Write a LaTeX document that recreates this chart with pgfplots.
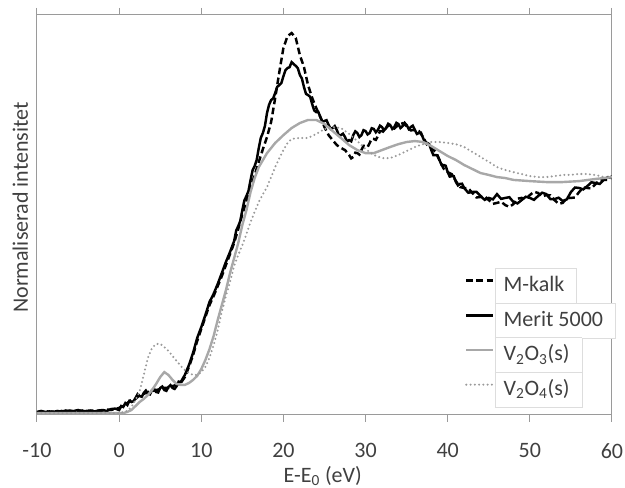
\documentclass[border=0pt]{standalone}
\usepackage{pgfplots}
\pgfplotsset{compat=1.18}
\usepackage{fontspec}
\setmainfont{Carlito}
\definecolor{txt}{HTML}{404040}
\definecolor{axgray}{HTML}{9A9A9A}
\definecolor{gsolid}{HTML}{A8A8A8}
\definecolor{gdot}{HTML}{9A9A9A}
\definecolor{lgray}{HTML}{DDDDDD}
\setlength{\fboxsep}{3pt}
\setlength{\fboxrule}{0.6pt}
\newcommand{\lbox}[1]{\fcolorbox{lgray}{white}{\hspace{3pt}\strut #1\hspace{6pt}}}
\begin{document}
\begin{tikzpicture}
\useasboundingbox (-27.75pt,-54.75pt) rectangle (441pt,311.25pt);
\begin{axis}[
  at={(0pt,0pt)}, anchor=south west,
  scale only axis, width=431.25pt, height=300pt,
  xmin=-10, xmax=60, ymin=0, ymax=1.688,
  xtick={-10,0,10,20,30,40,50,60}, ytick=\empty,
  tick align=outside, major tick length=5.25pt,
  axis line style={draw=axgray, line width=0.75pt},
  every tick/.style={draw=axgray, line width=0.75pt},
  /pgf/number format/assume math mode=true,
  font=\fontsize{16.5}{20}\selectfont,
  x tick label style={text=txt, font=\fontsize{16.5}{20}\selectfont, yshift=-12.5pt},
  xlabel={E-E\textsubscript{0} (eV)},
  ylabel={Normaliserad intensitet},
  every axis x label/.style={at={(axis description cs:0.497,-0.168)}, anchor=base, text=txt, font=\fontsize{16.5}{20}\selectfont},
  every axis y label/.style={at={(axis description cs:-0.0157,0.519)}, rotate=90, anchor=base, text=txt, font=\fontsize{16.5}{20}\selectfont},
  legend cell align=left,
  legend style={at={(axis description cs:0.744,0.37)}, anchor=north west, draw=none, fill=none,
    inner sep=0pt, row sep=5.9pt, font=\fontsize{16.5}{20}\selectfont, text=txt,
    nodes={inner sep=0.5pt}},
  legend image code/.code={\draw[#1] (0pt,0pt) -- (20pt,0pt);},
]
% M-kalk
\addplot[black, line width=1.85pt, dash pattern=on 5pt off 2.6pt] coordinates {
(-10,0.011) (-9.5,0.013) (-9,0.017) (-8.5,0.013) (-8,0.015) (-7.5,0.013) (-7,0.017) (-6.5,0.015)
(-6,0.019) (-5.5,0.015) (-5,0.017) (-4.5,0.019) (-4,0.015) (-3.5,0.017) (-3,0.019) (-2.5,0.017)
(-2,0.019) (-1.5,0.023) (-1,0.021) (-0.5,0.025) (0,0.030) (0.5,0.038) (1,0.051) (1.5,0.063)
(2,0.068) (2.5,0.084) (3,0.089) (3.5,0.097) (4,0.101) (4.5,0.105) (5,0.110) (5.5,0.114)
(6,0.114) (6.5,0.122) (7,0.127) (7.5,0.135) (8,0.160) (8.5,0.203) (9,0.253) (9.5,0.312)
(10,0.363) (10.5,0.414) (11,0.464) (11.5,0.502) (12,0.544) (12.5,0.586) (13,0.633) (13.5,0.679)
(14,0.726) (14.5,0.785) (15,0.848) (15.5,0.903) (16,0.958) (16.5,1.013) (17,1.068) (17.5,1.122)
(18,1.173) (18.5,1.236) (19,1.338) (19.5,1.447) (20,1.549) (20.5,1.599) (21,1.612) (21.5,1.591)
(22,1.519) (22.5,1.468) (23,1.392) (23.5,1.338) (24,1.295) (24.5,1.257) (25,1.215) (25.5,1.181)
(26,1.160) (26.5,1.139) (27,1.127) (27.5,1.118) (28,1.097) (28.25,1.083) (28.5,1.089) (28.75,1.107)
(29,1.105) (29.25,1.099) (29.5,1.118) (29.75,1.136) (30,1.135) (30.25,1.131) (30.5,1.148) (30.75,1.166)
(31,1.165) (31.25,1.161) (31.5,1.177) (31.75,1.197) (32,1.198) (32.25,1.194) (32.5,1.211) (32.75,1.223)
(33,1.215) (33.5,1.209) (34,1.224) (34.5,1.231) (35,1.219) (35.5,1.201) (36,1.203) (36.5,1.198)
(37,1.173) (37.5,1.140) (38,1.127) (38.5,1.111) (39,1.076) (39.5,1.040) (40,1.025) (40.5,1.016)
(41,0.987) (41.5,0.962) (42,0.958) (42.5,0.957) (43,0.937) (43.5,0.918) (44,0.920) (44.5,0.923)
(45,0.907) (45.5,0.891) (46,0.895) (46.5,0.900) (47,0.886) (47.5,0.878) (48,0.890) (48.5,0.913)
(49,0.916) (49.5,0.912) (50,0.928) (50.5,0.942) (51,0.937) (51.5,0.922) (52,0.928) (52.5,0.927)
(53,0.907) (53.5,0.891) (54,0.895) (54.5,0.915) (55,0.916) (55.5,0.918) (56,0.941) (56.5,0.960)
(57,0.958) (57.5,0.956) (58,0.975) (58.5,0.991) (59,0.992) (59.5,0.992) (60,1.008)
};
\addlegendentry{\lbox{M-kalk}}
% Merit 5000
\addplot[black, line width=1.85pt] coordinates {
(-10,0.013) (-9.5,0.017) (-9,0.013) (-8.5,0.015) (-8,0.013) (-7.5,0.017) (-7,0.013) (-6.5,0.019)
(-6,0.015) (-5.5,0.017) (-5,0.021) (-4.5,0.015) (-4,0.017) (-3.5,0.019) (-3,0.015) (-2.5,0.019)
(-2,0.021) (-1.5,0.017) (-1,0.025) (-0.5,0.027) (0,0.021) (0.25,0.038) (0.5,0.034) (0.75,0.050)
(1,0.042) (1.25,0.060) (1.5,0.055) (1.75,0.058) (2,0.072) (2.25,0.088) (2.5,0.080) (2.75,0.077)
(3,0.093) (3.25,0.103) (3.5,0.089) (3.75,0.087) (4,0.105) (4.25,0.111) (4.5,0.097) (4.75,0.095)
(5,0.114) (5.25,0.120) (5.5,0.105) (5.75,0.102) (6,0.118) (6.25,0.126) (6.5,0.114) (6.75,0.110)
(7,0.122) (7.25,0.141) (7.5,0.139) (8,0.169) (8.5,0.211) (9,0.262) (9.5,0.325)
(10,0.371) (10.5,0.422) (11,0.477) (11.5,0.511) (12,0.553) (12.5,0.599) (13,0.646) (13.5,0.688)
(14,0.734) (14.25,0.778) (14.5,0.797) (14.75,0.819) (15,0.865) (15.25,0.906) (15.5,0.924) (15.75,0.946)
(16,0.992) (16.25,1.033) (16.5,1.051) (16.75,1.077) (17,1.127) (17.25,1.170) (17.5,1.190) (17.75,1.220)
(18,1.274) (18.25,1.309) (18.5,1.329) (18.75,1.336) (19,1.359) (19.25,1.385) (19.5,1.392) (19.75,1.401)
(20,1.430) (20.25,1.455) (20.5,1.464) (20.75,1.468) (21,1.489) (21.5,1.473) (21.75,1.464)
(22,1.435) (22.25,1.420) (22.5,1.384) (22.75,1.355) (23,1.350) (23.25,1.343) (23.5,1.312) (23.75,1.285)
(24,1.278) (24.25,1.279) (24.5,1.257) (24.75,1.237) (25,1.241) (25.25,1.244) (25.5,1.224) (25.75,1.207)
(26,1.211) (26.25,1.219) (26.5,1.203) (26.75,1.180) (27,1.181) (27.25,1.187) (27.5,1.173) (27.75,1.154)
(28,1.160) (28.25,1.155) (28.5,1.181) (28.75,1.197) (29,1.190) (29.25,1.173) (29.5,1.181) (29.75,1.202)
(30,1.198) (30.25,1.184) (30.5,1.190) (30.75,1.210) (31,1.207) (31.25,1.193) (31.5,1.203) (31.75,1.221)
(32,1.215) (32.25,1.201) (32.5,1.211) (32.75,1.229) (33,1.224) (33.25,1.207) (33.5,1.215) (33.75,1.233)
(34,1.228) (34.25,1.211) (34.5,1.219) (34.75,1.233) (35,1.224) (35.25,1.207) (35.5,1.215) (35.75,1.221)
(36,1.203) (36.25,1.186) (36.5,1.190) (36.75,1.191) (37,1.169) (37.25,1.148) (37.5,1.148) (37.75,1.143)
(38,1.118) (38.25,1.097) (38.5,1.097) (38.75,1.096) (39,1.076) (39.25,1.055) (39.5,1.055) (39.75,1.052)
(40,1.025) (40.25,1.006) (40.5,1.008) (40.75,1.007) (41,0.983) (41.25,0.969) (41.5,0.975) (41.75,0.976)
(42,0.958) (42.5,0.938) (43,0.941) (43.5,0.942) (44,0.924) (44.5,0.908) (45,0.916) (45.5,0.910)
(46,0.932) (46.5,0.912) (47,0.916) (47.5,0.919) (48,0.899) (48.5,0.893) (49,0.907) (49.5,0.921)
(50,0.916) (50.5,0.908) (51,0.924) (51.5,0.938) (52,0.932) (52.5,0.911) (53,0.911) (53.5,0.917)
(54,0.903) (54.5,0.910) (55,0.941) (55.5,0.960) (56,0.958) (56.5,0.952) (57,0.966) (57.5,0.982)
(58,0.979) (58.5,0.975) (59,0.992) (59.5,1.004) (60,1.000)
};
\addlegendentry{\lbox{Merit 5000}}
% V2O3(s)
\addplot[gsolid, line width=1.8pt] coordinates {
(-10,0.008) (-5,0.008) (0,0.008) (0.5,0.008) (1,0.013) (1.5,0.021) (2,0.038) (2.5,0.055)
(3,0.068) (3.5,0.084) (4,0.105) (4.5,0.131) (5,0.160) (5.5,0.181) (6,0.169) (6.5,0.148)
(7,0.131) (7.5,0.127) (8,0.127) (8.5,0.135) (9,0.148) (9.5,0.165) (10,0.194) (10.5,0.232)
(11,0.278) (11.5,0.333) (12,0.401) (12.5,0.464) (13,0.527) (13.5,0.599) (14,0.662) (14.5,0.726)
(15,0.802) (15.5,0.865) (16,0.941) (16.5,1.000) (17,1.046) (18,1.105) (19,1.148) (20,1.181)
(21,1.211) (22,1.232) (23,1.245) (24,1.245) (25,1.228) (26,1.198) (27,1.169) (28,1.139)
(29,1.118) (30,1.105) (31,1.105) (32,1.118) (33,1.131) (34,1.143) (35,1.152) (36,1.156)
(37,1.152) (38,1.135) (39,1.114) (40,1.093) (41,1.076) (42,1.055) (43,1.038) (44,1.021)
(45,1.013) (46,1.004) (47,1.000) (48,0.992) (50,0.987) (52,0.983) (54,0.983) (56,0.987)
(58,0.996) (60,1.004)
};
\addlegendentry{\lbox{V\textsubscript{2}O\textsubscript{3}(s)}}
% V2O4(s)
\addplot[gdot, line width=1.7pt, line cap=round, dash pattern=on 0pt off 3.2pt] coordinates {
(-10,0.008) (-5,0.008) (0,0.008) (1,0.017) (1.5,0.034) (2,0.063) (2.5,0.101) (3,0.169)
(3.5,0.241) (4,0.283) (4.5,0.300) (5,0.300) (5.5,0.287) (6,0.270) (6.5,0.249) (7,0.228)
(7.5,0.207) (8,0.190) (8.5,0.177) (9,0.169) (9.5,0.169) (10,0.181) (10.5,0.203) (11,0.241)
(11.5,0.295) (12,0.359) (12.5,0.435) (13,0.502) (13.5,0.561) (14,0.629) (14.5,0.675) (15,0.717)
(15.5,0.764) (16,0.814) (16.5,0.857) (17,0.899) (17.5,0.932) (18,0.962) (18.5,1.004) (19,1.046)
(19.5,1.084) (20,1.118) (20.5,1.148) (21,1.165) (22,1.169) (23,1.169) (24,1.186) (25,1.207)
(26,1.215) (27,1.211) (28,1.186) (29,1.156) (30,1.122) (31,1.097) (32,1.084) (33,1.084)
(34,1.097) (35,1.114) (36,1.131) (37,1.143) (38,1.152) (39,1.152) (40,1.148) (41,1.143)
(42,1.131) (43,1.110) (44,1.089) (45,1.068) (46,1.046) (47,1.034) (48,1.025) (49,1.017)
(50,1.008) (51,1.004) (52,1.004) (53,1.008) (54,1.013) (55,1.013) (56,1.017) (57,1.017)
(58,1.013) (59,1.004) (60,1.000)
};
\addlegendentry{\lbox{V\textsubscript{2}O\textsubscript{4}(s)}}
\end{axis}
\end{tikzpicture}
\end{document}
